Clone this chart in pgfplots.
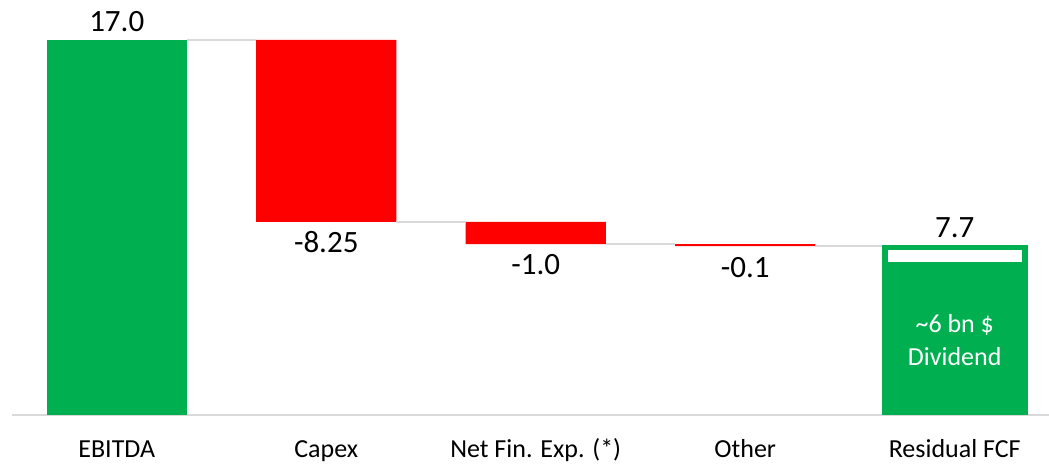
\documentclass[border=0pt]{standalone}
\usepackage{pgfplots}
\pgfplotsset{compat=1.18}
\usepackage{fontspec}
\setmainfont{Carlito}
\definecolor{xlgreen}{HTML}{00B050}
\definecolor{xlred}{HTML}{FF0000}
\definecolor{lgray}{HTML}{D9D9D9}
\begin{document}
\begin{tikzpicture}
\begin{axis}[name=ax,
  scale only axis, width=1037pt, height=415pt,
  xmin=-0.5, xmax=4.45, ymin=0, ymax=18.81,
  axis y line=none, axis x line*=bottom,
  x axis line style={draw=lgray, line width=1.8pt, -},
  xtick={0,1,2,3,4},
  xticklabels={EBITDA, Capex, Net Fin. Exp. (*), Other, Residual FCF},
  major tick length=0pt,
  xticklabel style={font=\fontsize{26}{31}\selectfont, anchor=base, yshift=-43pt},
  ybar stacked, bar width=0.67,
  clip=false,
]
% invisible base
\addplot[draw=none, fill=none] coordinates {(0,0) (1,8.75) (2,7.75) (3,7.65) (4,0)};
% EBITDA
\addplot[draw=none, fill=xlgreen] coordinates {(0,17) (1,0) (2,0) (3,0) (4,0)};
% Residual FCF
\addplot[draw=none, fill=xlgreen, bar width=0.695] coordinates {(0,0) (1,0) (2,0) (3,0) (4,7.7)};
% negatives
\addplot[draw=none, fill=xlred] coordinates {(0,0) (1,8.25) (2,1.0) (3,0.1) (4,0)};
\end{axis}
\begin{axis}[
  scale only axis, width=1037pt, height=415pt,
  xmin=-0.5, xmax=4.45, ymin=0, ymax=18.81,
  axis lines=none, clip=false,
]
% connectors
\addplot[sharp plot, draw=lgray, line width=1.5pt] coordinates {(0.335,17) (0.665,17)};
\addplot[sharp plot, draw=lgray, line width=1.5pt] coordinates {(1.335,8.75) (1.665,8.75)};
\addplot[sharp plot, draw=lgray, line width=1.5pt] coordinates {(2.335,7.75) (2.665,7.75)};
\addplot[sharp plot, draw=lgray, line width=1.5pt] coordinates {(3.335,7.65) (3.6525,7.65)};
% white band inside residual bar
\addplot[sharp plot, draw=none, fill=white] coordinates {(3.68,6.92) (4.32,6.92) (4.32,7.50) (3.68,7.50)} -- cycle;
% value labels
\node[font=\fontsize{31}{37}\selectfont] at (axis cs:0,17.82) {17.0};
\node[font=\fontsize{31}{37}\selectfont] at (axis cs:1,7.84) {-8.25};
\node[font=\fontsize{31}{37}\selectfont] at (axis cs:2,6.80) {-1.0};
\node[font=\fontsize{31}{37}\selectfont] at (axis cs:3,6.66) {-0.1};
\node[font=\fontsize{31}{37}\selectfont] at (axis cs:4,8.48) {7.7};
\node[font=\fontsize{26}{33}\selectfont, text=white, align=center] at (axis cs:4,3.4) {\textasciitilde6 bn \$\\Dividend};
\end{axis}
\pgfresetboundingbox
\path[use as bounding box] ([xshift=-12pt,yshift=-50pt]ax.south west) rectangle (ax.north east);
\end{tikzpicture}
\end{document}
